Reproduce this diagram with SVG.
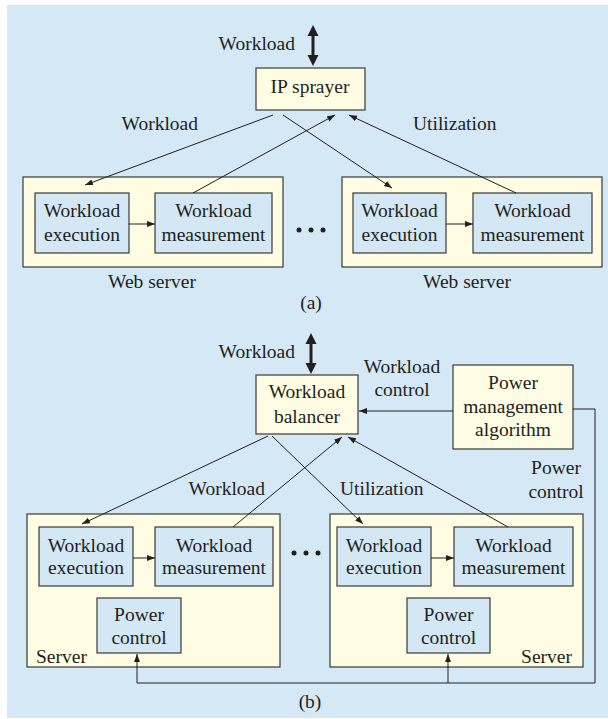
<svg xmlns="http://www.w3.org/2000/svg" width="608" height="719" viewBox="0 0 608 719">
<defs>
<style>
text{font-family:"Liberation Serif","Times New Roman",serif;font-size:19.5px;fill:#231f20}
.m{text-anchor:middle}
.e{text-anchor:end}
.y{fill:#fefce2;stroke:#3a3a3a;stroke-width:1.2}
.b{fill:#d4e7f5;stroke:#3a3a3a;stroke-width:1.2}
.c{fill:none;stroke:#231f20;stroke-width:1}
.a{marker-end:url(#ah)}
.dbl{fill:#231f20}
</style>
<marker id="ah" markerUnits="userSpaceOnUse" markerWidth="10" markerHeight="8" refX="8" refY="3" orient="auto">
<path d="M0,0 L8,3 L0,6 Z" fill="#231f20"/>
</marker>
</defs>
<rect x="7" y="5" width="601" height="713" fill="#d5e8f6"/>

<!-- Part (a) -->
<g id="a-double-arrow">
<line x1="313" y1="34" x2="313" y2="57" stroke="#231f20" stroke-width="3"/>
<polygon class="dbl" points="313,25 307.5,36 318.5,36"/>
<polygon class="dbl" points="313,66 307.5,55 318.5,55"/>
</g>
<text class="e" x="295" y="50">Workload</text>
<g id="ip-sprayer">
<rect class="y" x="256" y="68" width="109" height="42"/>
<text class="m" x="310" y="93">IP sprayer</text>
</g>
<g id="web-server-1">
<rect class="y" x="23" y="177" width="260" height="90"/>
<rect class="b" x="35" y="193" width="94" height="60"/>
<text class="m" x="82" y="217">Workload</text>
<text class="m" x="82" y="241">execution</text>
<rect class="b" x="155" y="193" width="117" height="60"/>
<text class="m" x="213.5" y="217">Workload</text>
<text class="m" x="213.5" y="241">measurement</text>
</g>
<g id="web-server-2">
<rect class="y" x="342" y="177" width="260" height="90"/>
<rect class="b" x="353" y="193" width="93" height="60"/>
<text class="m" x="399.5" y="217">Workload</text>
<text class="m" x="399.5" y="241">execution</text>
<rect class="b" x="473" y="193" width="119" height="60"/>
<text class="m" x="532.5" y="217">Workload</text>
<text class="m" x="532.5" y="241">measurement</text>
</g>
<g id="a-dots" fill="#231f20">
<circle cx="299" cy="230" r="2.5"/><circle cx="311" cy="230" r="2.5"/><circle cx="323" cy="230" r="2.5"/>
</g>
<text class="e" x="198" y="130">Workload</text>
<text x="413" y="130">Utilization</text>
<text class="m" x="152" y="288">Web server</text>
<text class="m" x="467" y="288">Web server</text>
<text class="m" x="311" y="309">(a)</text>

<!-- Part (b) -->
<g id="b-double-arrow">
<line x1="311" y1="342" x2="311" y2="365" stroke="#231f20" stroke-width="3"/>
<polygon class="dbl" points="311,333 305.5,344 316.5,344"/>
<polygon class="dbl" points="311,374 305.5,363 316.5,363"/>
</g>
<text class="e" x="295" y="358">Workload</text>
<g id="workload-balancer">
<rect class="y" x="256" y="375" width="102" height="59"/>
<text class="m" x="307" y="398">Workload</text>
<text class="m" x="307" y="423">balancer</text>
</g>
<g id="power-management">
<rect class="y" x="453" y="365" width="120" height="84"/>
<text class="m" x="513" y="389">Power</text>
<text class="m" x="513" y="413">management</text>
<text class="m" x="513" y="436">algorithm</text>
</g>
<text class="m" x="402" y="373">Workload</text>
<text class="m" x="402" y="396">control</text>
<text class="m" x="556" y="474">Power</text>
<text class="m" x="556" y="498">control</text>
<g id="server-1">
<rect class="y" x="27" y="514" width="253" height="153"/>
<rect class="b" x="39" y="527" width="94" height="59"/>
<text class="m" x="86" y="552">Workload</text>
<text class="m" x="86" y="574">execution</text>
<rect class="b" x="155" y="527" width="118" height="59"/>
<text class="m" x="214" y="552">Workload</text>
<text class="m" x="214" y="574">measurement</text>
<rect class="b" x="97" y="598" width="84" height="55"/>
<text class="m" x="139" y="621">Power</text>
<text class="m" x="139" y="644">control</text>
<text x="36" y="663">Server</text>
</g>
<g id="server-2">
<rect class="y" x="330" y="514" width="253" height="153"/>
<rect class="b" x="337" y="527" width="94" height="59"/>
<text class="m" x="384" y="552">Workload</text>
<text class="m" x="384" y="574">execution</text>
<rect class="b" x="454" y="527" width="119" height="59"/>
<text class="m" x="513.5" y="552">Workload</text>
<text class="m" x="513.5" y="574">measurement</text>
<rect class="b" x="407" y="598" width="83" height="55"/>
<text class="m" x="448.5" y="621">Power</text>
<text class="m" x="448.5" y="644">control</text>
<text class="e" x="572" y="663">Server</text>
</g>
<g id="b-dots" fill="#231f20">
<circle cx="294" cy="553" r="2.5"/><circle cx="306" cy="553" r="2.5"/><circle cx="318" cy="553" r="2.5"/>
</g>
<text class="e" x="265" y="495">Workload</text>
<text x="340" y="495">Utilization</text>
<text class="m" x="310" y="708">(b)</text>

<g id="connectors">
<!-- (a) -->
<line class="c a" x1="273" y1="115" x2="85" y2="185"/>
<line class="c a" x1="283" y1="115" x2="392" y2="188"/>
<line class="c a" x1="193" y1="193" x2="335" y2="115"/>
<line class="c a" x1="516" y1="193" x2="349" y2="115"/>
<line class="c a" x1="129" y1="224" x2="155" y2="224"/>
<line class="c a" x1="446" y1="224" x2="473" y2="224"/>
<!-- (b) -->
<line class="c a" x1="268" y1="436" x2="82" y2="524"/>
<line class="c a" x1="272" y1="436" x2="363" y2="524"/>
<line class="c a" x1="233" y1="527" x2="342" y2="437"/>
<line class="c a" x1="508" y1="527" x2="348" y2="437"/>
<line class="c a" x1="133" y1="558" x2="155" y2="558"/>
<line class="c a" x1="431" y1="558" x2="454" y2="558"/>
<line class="c a" x1="453" y1="411" x2="359" y2="411"/>
<polyline class="c a" points="573,409 595,409 595,683 137,683 137,654"/>
<line class="c a" x1="448" y1="683" x2="448" y2="654"/>
</g>
</svg>
